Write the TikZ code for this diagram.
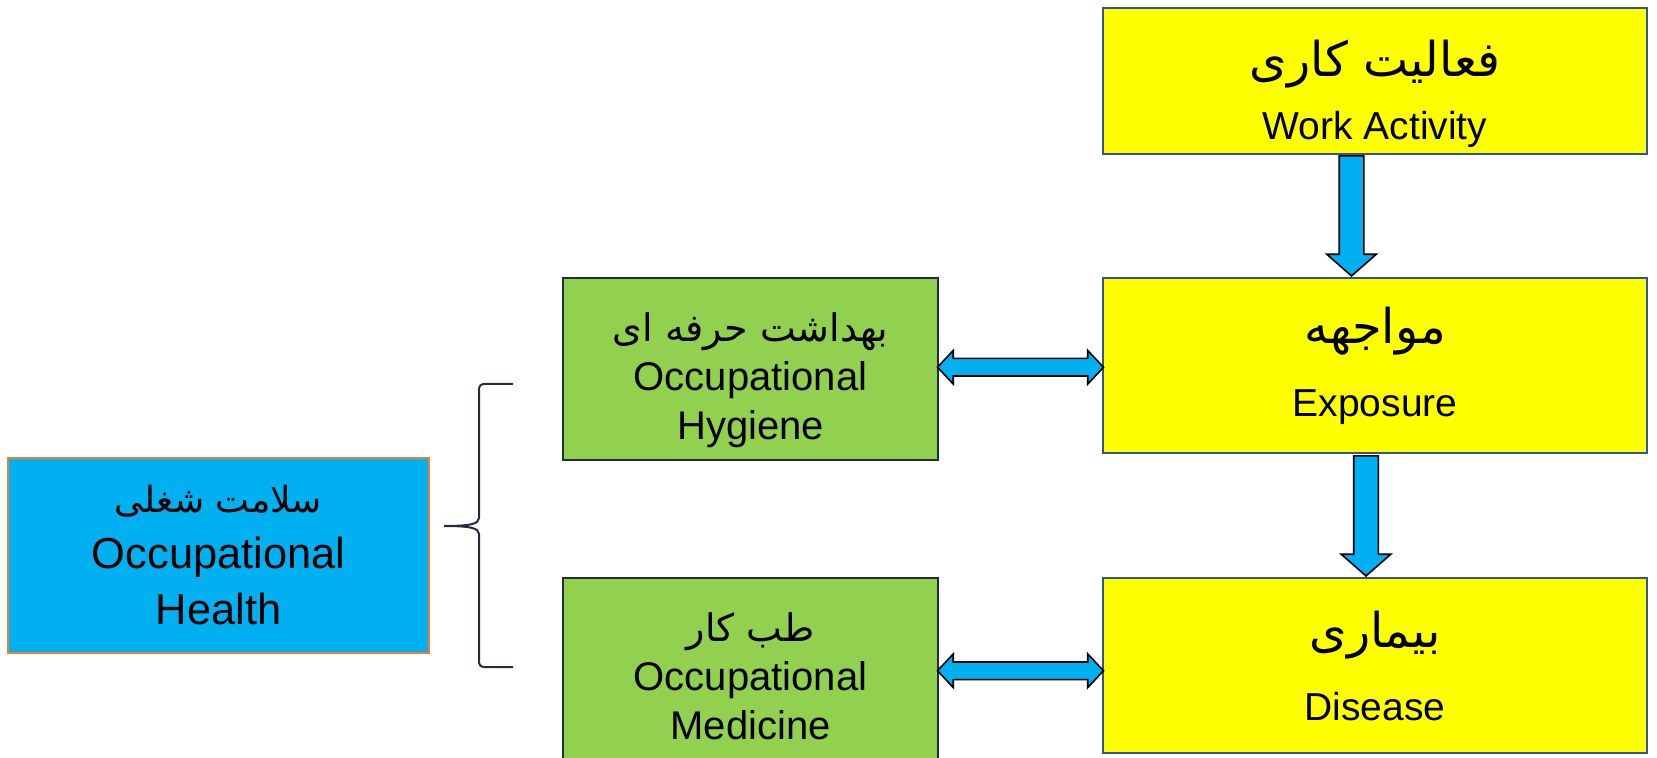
\documentclass[tikz,border=0pt]{standalone}
\usepackage{fontspec}
\setmainfont{Liberation Sans}
\newfontfamily\farsifont[Script=Arabic]{DejaVu Sans}
\TeXXeTstate=1
\usetikzlibrary{shapes.arrows,calc}

\definecolor{boxyellow}{HTML}{FFFF00}
\definecolor{boxgreen}{HTML}{92D050}
\definecolor{boxblue}{HTML}{00B0F0}
\definecolor{edgeblue}{HTML}{2F5597}
\definecolor{edgeorange}{HTML}{ED7D31}
\definecolor{edgedark}{HTML}{1F2D3D}

\newcommand{\fabig}[1]{{\fontsize{24}{28}\farsifont\beginR #1\endR}}
\newcommand{\fasmall}[2][19]{{\fontsize{#1}{24}\farsifont\beginR #2\endR}}

\tikzset{
  stagebox/.style={draw, line width=1pt, inner sep=0pt, align=center,
    font=\fontsize{19.5}{24.5}\selectfont},
  yellowbox/.style={stagebox, fill=boxyellow, draw=edgeblue, minimum width=272pt},
  greenbox/.style={stagebox, fill=boxgreen, draw=edgedark,
    minimum width=187.5pt, font=\fontsize{20}{24.5}\selectfont},
  downarrow/.style={single arrow, draw, fill=boxblue, line width=0.8pt,
    shape border rotate=270, inner sep=5.75pt, single arrow head extend=6.25pt,
    single arrow tip angle=97.6, minimum height=60pt},
  sidearrow/.style={double arrow, draw, fill=boxblue, line width=0.8pt,
    inner sep=4pt, double arrow head extend=4pt, double arrow tip angle=93.7,
    minimum height=83pt}
}

\begin{document}
\begin{tikzpicture}[x=0.5pt,y=-0.5pt]
\useasboundingbox (0,0) rectangle (1657,758);

% the chain on the right
\node[yellowbox, minimum height=73pt] (work) at (1375,81)
  {\rule{0pt}{31pt}\fabig{فعالیت کاری}\\[7pt] Work Activity};
\node[yellowbox, minimum height=87.5pt] (expo) at (1375,365.5)
  {\fabig{مواجهه}\\[12pt] Exposure};
\node[yellowbox, minimum height=87.5pt] (dis) at (1375,665.5)
  {\fabig{بیماری}\\[12pt] Disease};

% the two branches
\node[greenbox, minimum height=91pt] (hyg) at (750.5,369)
  {\rule{0pt}{26pt}\fasmall{بهداشت حرفه ای}\\ Occupational\\ Hygiene};
\node[greenbox, minimum height=98pt] (med) at (750.5,676)
  {\fasmall{طب کار}\\ Occupational\\ Medicine};

% the whole field
\node[stagebox, fill=boxblue, draw=edgeorange, minimum width=210.5pt,
  minimum height=97.5pt, font=\fontsize{21.7}{28}\selectfont] (health) at (218.5,555.5)
  {\fasmall[18]{سلامت شغلی}\\ Occupational\\ Health};

% arrows
\node[downarrow, anchor=tip] (workexpo) at ([xshift=-11.75pt]expo.north) {};
\node[downarrow, anchor=tip] (expodis) at ([xshift=-4.5pt]dis.north) {};
\node[sidearrow] (hygexpo) at ($(hyg.east)!0.5!(expo.west)$) {};
\node[sidearrow] (meddis) at ($(med.east)!0.5!(dis.west)$) {};

% brace
\draw[edgedark, line width=1pt] (513,384) -- (485,384)
  .. controls (480,384) and (479,386) .. (479,391) -- (479,518)
  .. controls (479,524) and (470,526) .. (444,526)
  .. controls (470,526) and (479,528) .. (479,534) -- (479,660)
  .. controls (479,665) and (480,667) .. (485,667) -- (513,667);
\end{tikzpicture}
\end{document}
